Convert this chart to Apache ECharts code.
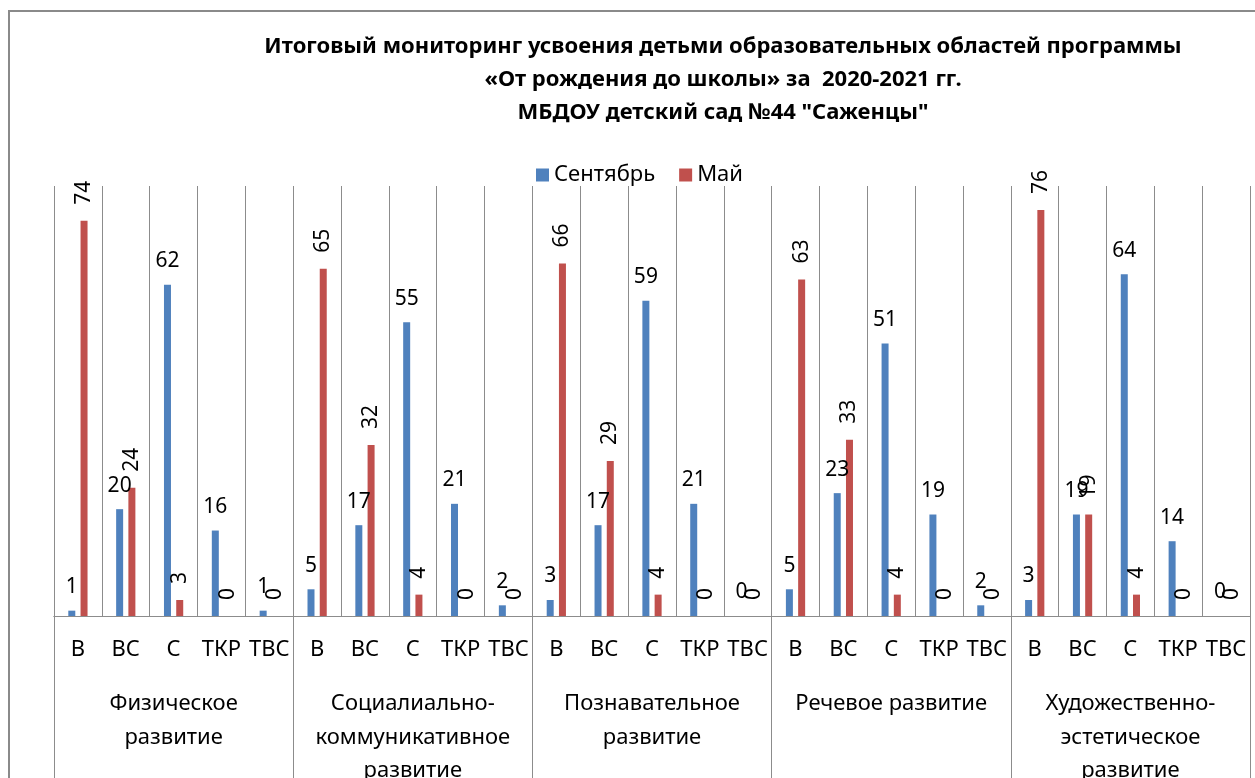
<html style="width: 100%; height: 100%">
<head>
    <meta charset="utf-8">
</head>
<script src="https://cdn.jsdelivr.net/npm/echarts@6/dist/echarts.min.js"></script>
<body style="width: 100%; height: 100%; margin: 0; background: #ffffff">
<div id="container" style="width: 100%; height: 100%"></div>

<script type="text/javascript">
    // data
    var groups = [
        'Физическое\nразвитие',
        'Социалиально-\nкоммуникативное\nразвитие',
        'Познавательное\nразвитие',
        'Речевое развитие',
        'Художественно-\nэстетическое\nразвитие'
    ];
    var levels = ['В', 'ВС', 'С', 'ТКР', 'ТВС'];
    var september = [1, 20, 62, 16, 1,  5, 17, 55, 21, 2,  3, 17, 59, 21, 0,  5, 23, 51, 19, 2,  3, 19, 64, 14, 0];
    var may = [74, 24, 3, 0, 0,  65, 32, 4, 0, 0,  66, 29, 4, 0, 0,  63, 33, 4, 0, 0,  76, 19, 4, 0, 0];
    var seriesNames = ['Сентябрь', 'Май'];

    var categories = [];
    for (var g = 0; g < groups.length; g++) {
        for (var k = 0; k < levels.length; k++) {
            categories.push(levels[k]);
        }
    }

    var font = 'Noto Sans';
    var gridColor = '#8c8c8c';

    var dom = document.getElementById("container");
    var myChart = echarts.init(dom);
    var option = {
        backgroundColor: '#ffffff',
        textStyle: {fontFamily: font},
        title: {
            text: 'Итоговый мониторинг усвоения детьми образовательных областей программы\n«От рождения до школы» за  2020-2021 гг.\nМБДОУ детский сад №44 "Саженцы"',
            left: 718,
            top: 25,
            textAlign: 'center',
            textStyle: {
                fontFamily: font,
                fontSize: 22,
                fontWeight: 'bold',
                lineHeight: 33,
                color: '#000'
            }
        },
        legend: {
            data: seriesNames,
            left: 531,
            top: 159,
            icon: 'rect',
            itemWidth: 13,
            itemHeight: 13,
            itemGap: 24,
            textStyle: {fontFamily: font, fontSize: 22, color: '#000'}
        },
        graphic: [{
            type: 'rect',
            shape: {x: 9, y: 11, width: 1400, height: 900},
            style: {fill: 'none', stroke: '#8a8a8a', lineWidth: 2},
            silent: true
        }],
        grid: {left: 54, right: 5, top: 186, bottom: 162, containLabel: false, outerBoundsMode: 'none'},
        xAxis: [
            {
                type: 'category',
                position: 'bottom',
                data: categories,
                axisLine: {show: true, lineStyle: {color: gridColor}},
                axisTick: {show: false},
                splitLine: {show: true, interval: 0, lineStyle: {color: gridColor, width: 1}},
                axisLabel: {interval: 0, margin: 23, fontSize: 22, color: '#000', fontFamily: font}
            },
            {
                type: 'category',
                position: 'bottom',
                data: groups,
                axisLine: {show: true, lineStyle: {color: gridColor}},
                axisTick: {show: true, interval: 0, length: 170, lineStyle: {color: gridColor}},
                axisLabel: {interval: 0, margin: 71, fontSize: 22, lineHeight: 33.5, color: '#000', fontFamily: font}
            }
        ],
        yAxis: {
            type: 'value',
            min: 0,
            max: 80.5,
            show: false,
            splitLine: {show: false}
        },
        series: [
            {
                name: seriesNames[0],
                type: 'bar',
                xAxisIndex: 0,
                data: september,
                barWidth: 7,
                barGap: '75%',
                itemStyle: {color: '#4f81bd'},
                label: {
                    show: true,
                    position: 'top',
                    distance: 13,
                    fontSize: 21,
                    color: '#000',
                    fontFamily: font
                }
            },
            {
                name: seriesNames[1],
                type: 'bar',
                xAxisIndex: 0,
                data: may,
                barWidth: 7,
                barGap: '75%',
                itemStyle: {color: '#c0504d'},
                label: {
                    show: true,
                    position: 'top',
                    distance: 16,
                    rotate: 90,
                    align: 'left',
                    verticalAlign: 'middle',
                    fontSize: 21,
                    color: '#000',
                    fontFamily: font
                }
            }
        ]
    };
    myChart.setOption(option);
</script>
</body>

</html>
